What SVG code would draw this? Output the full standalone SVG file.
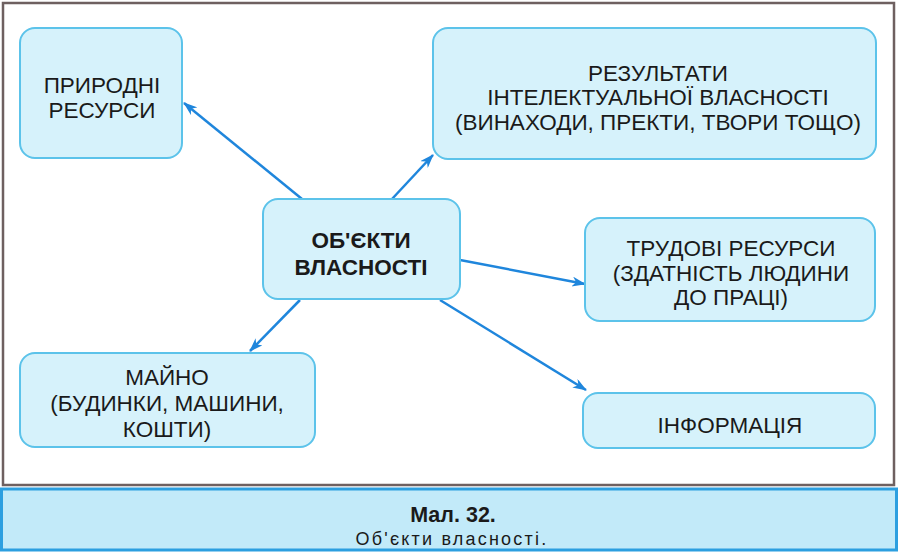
<svg xmlns="http://www.w3.org/2000/svg" width="899" height="554" viewBox="0 0 899 554">
<style>
.box{fill:#d6f2fb;stroke:#5cc3ea;stroke-width:2}
.t{font-family:"Liberation Sans",Arial,sans-serif;font-size:22.5px;fill:#1a1a1a;text-anchor:middle}
.b{font-weight:bold;font-size:22.5px}
.c{stroke:#1f86dc;stroke-width:2.5;fill:none;marker-end:url(#ah)}
</style>
<defs>
<marker id="ah" viewBox="0 0 14 10" refX="13" refY="5" markerWidth="14" markerHeight="10" markerUnits="userSpaceOnUse" orient="auto">
<path d="M0,0 L14,5 L0,10 L4,5 Z" fill="#1f86dc"/>
</marker>
</defs>
<rect x="0" y="0" width="899" height="554" fill="#ffffff"/>
<rect x="3" y="3" width="891" height="482" fill="#ffffff" stroke="#6e6060" stroke-width="2.5"/>
<g id="caption">
<rect x="1.5" y="489" width="895" height="61" fill="#c2eaf9" stroke="#2c9fe0" stroke-width="3"/>
<text class="t" x="453" y="522" style="font-weight:bold;font-size:21.5px">Мал. 32.</text>
<text class="t" x="452" y="545" style="font-size:18px;letter-spacing:2.2px">Об'єкти власності.</text>
</g>
<g id="connectors">
<line class="c" x1="302" y1="199" x2="184" y2="103"/>
<line class="c" x1="392" y1="199" x2="433" y2="155"/>
<line class="c" x1="460" y1="260" x2="585" y2="284"/>
<line class="c" x1="440" y1="300" x2="586" y2="390"/>
<line class="c" x1="300" y1="300" x2="250" y2="351"/>
</g>
<g id="center">
<rect class="box" x="263" y="199" width="197" height="100" rx="15"/>
<text class="t b" x="361" y="248">ОБ'ЄКТИ</text>
<text class="t b" x="361" y="275">ВЛАСНОСТІ</text>
</g>
<g id="natural">
<rect class="box" x="20" y="28" width="162" height="130" rx="15"/>
<text class="t" x="102" y="93">ПРИРОДНІ</text>
<text class="t" x="102" y="118">РЕСУРСИ</text>
</g>
<g id="intellectual">
<rect class="box" x="433" y="28" width="443" height="131" rx="15"/>
<text class="t" x="658" y="81">РЕЗУЛЬТАТИ</text>
<text class="t" x="658" y="105">ІНТЕЛЕКТУАЛЬНОЇ ВЛАСНОСТІ</text>
<text class="t" x="658" y="130">(ВИНАХОДИ, ПРЕКТИ, ТВОРИ ТОЩО)</text>
</g>
<g id="labor">
<rect class="box" x="585" y="218" width="290" height="103" rx="15"/>
<text class="t" x="731" y="256">ТРУДОВІ РЕСУРСИ</text>
<text class="t" x="731" y="281">(ЗДАТНІСТЬ ЛЮДИНИ</text>
<text class="t" x="731" y="305">ДО ПРАЦІ)</text>
</g>
<g id="information">
<rect class="box" x="583" y="393" width="292" height="55" rx="15"/>
<text class="t" x="730" y="433">ІНФОРМАЦІЯ</text>
</g>
<g id="property">
<rect class="box" x="20" y="353" width="295" height="94" rx="15"/>
<text class="t" x="167" y="385">МАЙНО</text>
<text class="t" x="167" y="411">(БУДИНКИ, МАШИНИ,</text>
<text class="t" x="167" y="437">КОШТИ)</text>
</g>
</svg>
